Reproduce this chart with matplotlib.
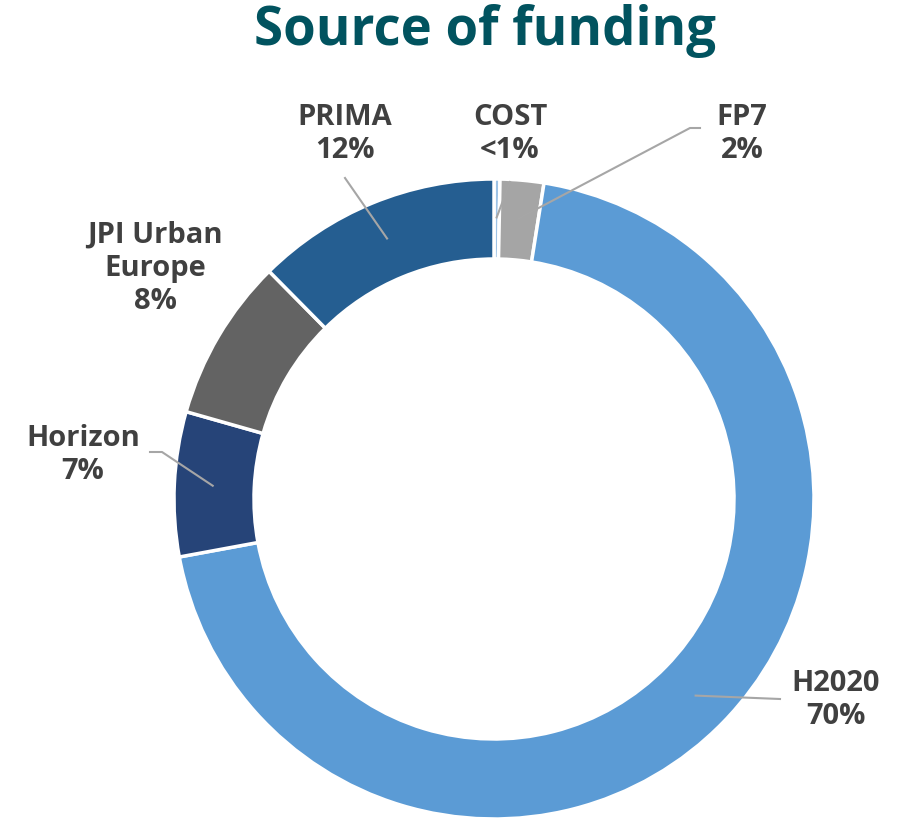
import numpy as np
import matplotlib.pyplot as plt

# funding shares, clockwise from the top
sources = ["COST", "FP7", "H2020", "Horizon", "JPI Urban\nEurope", "PRIMA"]
shares = [0.3, 2.2, 69.6, 7.3, 8.2, 12.4]
pct_labels = ["<1%", "2%", "70%", "7%", "8%", "12%"]
colors = ["#9DC3E6", "#A5A5A5", "#5B9BD5", "#264478", "#636363", "#255E91"]

W, H = 907, 822
CX, CY, R = 494, 499, 320


def px(x, y):
    return (x - CX) / R, (CY - y) / R


fig = plt.figure(figsize=(W / 100, H / 100), dpi=100)
ax = fig.add_axes([0, 0, 1, 1])

wedges, _ = ax.pie(shares, colors=colors, startangle=90, counterclock=False,
                   radius=1.0, wedgeprops=dict(width=0.25, edgecolor="white", linewidth=2.5))

ax.set_xlim(-CX / R, (W - CX) / R)
ax.set_ylim(-(H - CY) / R, CY / R)
ax.set_aspect("equal")
ax.axis("off")

# label text centres and leader elbow points (pixels)
label_pos = [(510, 134), (742, 134), (836, 700), (83, 455), (155, 268), (345, 134)]
elbows = [[(510, 182)], [(700, 128), (690, 128)], [(780, 699)], [(150, 452), (162, 452)],
          None, [(345, 178)]]

for w, name, pct, pos, elb in zip(wedges, sources, pct_labels, label_pos, elbows):
    mid = np.deg2rad((w.theta1 + w.theta2) / 2)
    ax_, ay_ = 0.88 * np.cos(mid), 0.88 * np.sin(mid)
    if elb is not None:
        pts = [px(*p) for p in elb] + [(ax_, ay_)]
        ax.plot([p[0] for p in pts], [p[1] for p in pts], color="#A6A6A6", lw=1.5, zorder=3)
    tx, ty = px(*pos)
    ax.text(tx, ty, f"{name}\n{pct}", ha="center", va="center", fontsize=21,
            fontweight="bold", color="#404040", family="Open Sans", linespacing=1.2)

fig.text(485 / W, 1 - 31 / H, "Source of funding", ha="center", va="center",
         fontsize=38, fontweight="bold", color="#01535F", family="Open Sans")

fig.savefig("out.png", dpi=100)
